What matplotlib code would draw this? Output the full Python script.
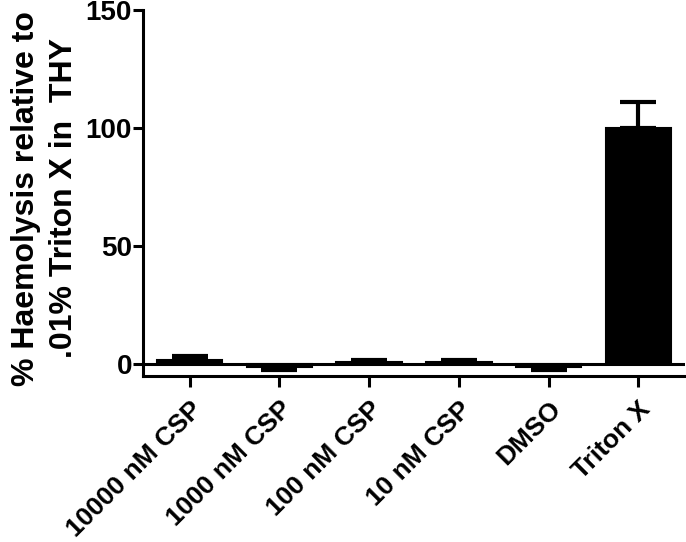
import matplotlib
matplotlib.use('Agg')
import matplotlib.pyplot as plt
import numpy as np

plt.rcParams['font.family'] = ['Liberation Sans', 'DejaVu Sans']
plt.rcParams['font.weight'] = 'bold'

groups = ['10000 nM CSP', '1000 nM CSP', '100 nM CSP', '10 nM CSP', 'DMSO', 'Triton X']
means = [2.0, -1.0, 0.8, 1.0, -1.0, 100.0]
sem = [1.5, 1.2, 1.1, 1.0, 1.6, 11.0]
yticks = [0, 50, 100, 150]

ind = np.arange(len(groups))
means_arr = np.array(means)
sem_arr = np.array(sem)
# error bars only drawn away from zero (Prism style)
upper = np.where(means_arr >= 0, sem_arr, 0)
lower = np.where(means_arr < 0, sem_arr, 0)

fig = plt.figure(figsize=(6.86, 5.42), dpi=100)
ax = fig.add_axes([0.2085, 0.306, 0.79, 0.6755])

ax.bar(ind, means, 0.73, color='black', edgecolor='black', linewidth=1.5, zorder=3)
ax.errorbar(ind, means, yerr=[lower, upper], fmt='none', ecolor='black',
            elinewidth=3, capsize=13, capthick=3, zorder=4)
ax.axhline(0, color='black', lw=2.2, zorder=2)

ax.set_xlim(-0.52, 5.52)
ax.set_ylim(-5, 150)
ax.set_yticks(yticks)
ax.set_xticks(ind)
ax.set_xticklabels(groups, rotation=45, ha='right', rotation_mode='anchor', fontsize=19, fontweight='bold')
ax.tick_params(axis='y', labelsize=20, width=2.2, length=7, pad=1)
ax.tick_params(axis='x', width=2.2, length=8, pad=7)
for lab in ax.get_yticklabels():
    lab.set_fontweight('bold')

ax.spines['top'].set_visible(False)
ax.spines['right'].set_visible(False)
ax.spines['left'].set_linewidth(2.2)
ax.spines['bottom'].set_linewidth(2.2)

ax.set_ylabel('% Haemolysis relative to\n.01% Triton X in  THY', fontsize=23, fontweight='bold',
              linespacing=1.35)
ax.yaxis.set_label_coords(-0.118, 0.486)

fig.savefig('out.png', dpi=100)
